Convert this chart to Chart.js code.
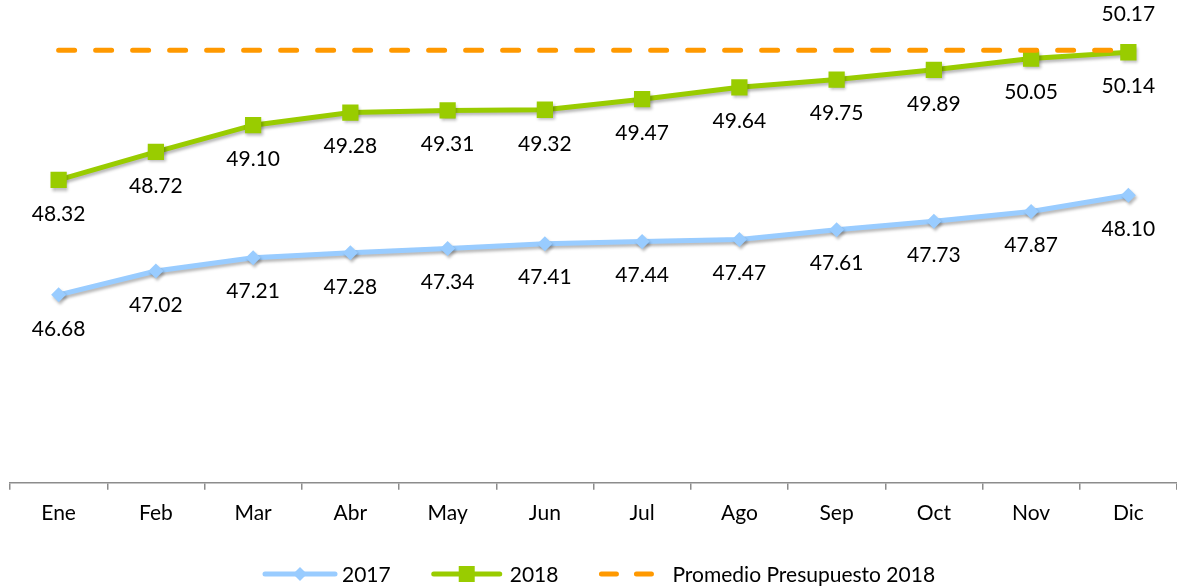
<!DOCTYPE html>
<html lang="es">
<head>
<meta charset="UTF-8">
<title>Promedio mensual 2017 - 2018</title>
<script src="https://cdn.jsdelivr.net/npm/chart.js"></script>
<style>
  html, body { margin: 0; padding: 0; background: #fff; }
  #wrap { width: 1177px; height: 587px; position: relative; }
</style>
</head>
<body>
<div id="wrap"><canvas id="chart"></canvas></div>
<script>
const months = ['Ene', 'Feb', 'Mar', 'Abr', 'May', 'Jun', 'Jul', 'Ago', 'Sep', 'Oct', 'Nov', 'Dic'];
const values2017 = [46.68, 47.02, 47.21, 47.28, 47.34, 47.41, 47.44, 47.47, 47.61, 47.73, 47.87, 48.10];
const values2018 = [48.32, 48.72, 49.10, 49.28, 49.31, 49.32, 49.47, 49.64, 49.75, 49.89, 50.05, 50.14];
const budget2018 = 50.17;
const seriesNames = ['2017', '2018', 'Promedio Presupuesto 2018'];

const FONT = '21px Lato, "Open Sans", sans-serif';
const BLUE = '#99CCFF';
const GREEN = '#99CC00';
const ORANGE = '#FF9900';

// flat budget reference across every month
const budgetLine = months.map(() => budget2018);

// soft drop shadow under the two series
const seriesShadow = {
  id: 'seriesShadow',
  beforeDatasetDraw(chart, args) {
    if (args.index > 1) return;
    const ctx = chart.ctx;
    ctx.save();
    ctx.shadowColor = 'rgba(0,0,0,0.28)';
    ctx.shadowBlur = 3;
    ctx.shadowOffsetX = 1.5;
    ctx.shadowOffsetY = 2.5;
  },
  afterDatasetDraw(chart, args) {
    if (args.index > 1) return;
    chart.ctx.restore();
  }
};

// values printed under each point, budget value above the last point
const valueLabels = {
  id: 'valueLabels',
  afterDatasetsDraw(chart) {
    const ctx = chart.ctx;
    ctx.save();
    ctx.font = FONT;
    ctx.fillStyle = '#000';
    ctx.textAlign = 'center';
    ctx.textBaseline = 'middle';
    [0, 1].forEach(i => {
      const ds = chart.data.datasets[i];
      chart.getDatasetMeta(i).data.forEach((pt, j) => {
        ctx.fillText(ds.data[j].toFixed(2), pt.x, pt.y + 34);
      });
    });
    const pts = chart.getDatasetMeta(2).data;
    const last = pts[pts.length - 1];
    ctx.fillText(budget2018.toFixed(2), last.x, last.y - 36);
    ctx.restore();
  }
};

// legend row: line + marker samples, dashed sample for the budget
const legendRow = {
  id: 'legendRow',
  afterDraw(chart) {
    const ctx = chart.ctx;
    const y = 574;
    ctx.save();
    ctx.font = FONT;
    ctx.textBaseline = 'middle';
    ctx.textAlign = 'left';
    const items = [
      { text: seriesNames[0], sample: 74, gap: 5, kind: 'diamond', color: BLUE },
      { text: seriesNames[1], sample: 70, gap: 8, kind: 'square', color: GREEN },
      { text: seriesNames[2], sample: 54, gap: 19, kind: 'dash', color: ORANGE }
    ];
    const spacing = 41;
    let x = 263;
    items.forEach(it => {
      it.w = it.sample + it.gap + ctx.measureText(it.text).width;
      ctx.strokeStyle = it.color;
      ctx.fillStyle = it.color;
      ctx.lineWidth = 5;
      ctx.lineCap = 'round';
      const cx = x + it.sample / 2;
      if (it.kind === 'dash') {
        ctx.beginPath();
        ctx.moveTo(x + 2, y); ctx.lineTo(x + 17, y);
        ctx.moveTo(x + 37, y); ctx.lineTo(x + 52, y);
        ctx.stroke();
      } else {
        ctx.beginPath();
        ctx.moveTo(x + 2, y); ctx.lineTo(x + it.sample - 2, y);
        ctx.stroke();
        ctx.beginPath();
        if (it.kind === 'diamond') {
          ctx.moveTo(cx - 7, y); ctx.lineTo(cx, y - 7);
          ctx.lineTo(cx + 7, y); ctx.lineTo(cx, y + 7);
          ctx.closePath();
        } else {
          ctx.rect(cx - 8, y - 8, 16, 16);
        }
        ctx.fill();
      }
      ctx.fillStyle = '#000';
      ctx.fillText(it.text, x + it.sample + it.gap, y + 1);
      x += it.w + spacing;
    });
    ctx.restore();
  }
};

new Chart(document.getElementById('chart'), {
  type: 'line',
  data: {
    labels: months,
    datasets: [
      {
        label: seriesNames[0],
        data: values2017,
        borderColor: BLUE,
        backgroundColor: BLUE,
        borderWidth: 5,
        pointStyle: 'rectRot',
        pointRadius: 7.5,
        pointBorderWidth: 0,
        tension: 0,
        order: 2
      },
      {
        label: seriesNames[1],
        data: values2018,
        borderColor: GREEN,
        backgroundColor: GREEN,
        borderWidth: 5,
        pointStyle: 'rect',
        pointRadius: 11.5,
        pointBorderWidth: 0,
        tension: 0,
        order: 1
      },
      {
        label: seriesNames[2],
        data: budgetLine,
        borderColor: ORANGE,
        borderWidth: 5,
        borderDash: [16, 21],
        borderCapStyle: 'round',
        pointRadius: 0,
        order: 0
      }
    ]
  },
  options: {
    responsive: true,
    maintainAspectRatio: false,
    animation: false,
    layout: {
      autoPadding: false,
      padding: { top: 27, left: 10, right: 0, bottom: 50 }
    },
    plugins: {
      legend: { display: false },
      tooltip: { enabled: false }
    },
    scales: {
      x: {
        offset: true,
        // category axis spans the full width, no room kept for edge labels
        afterFit(scale) {
          scale.paddingLeft = 0;
          scale.paddingRight = 0;
        },
        grid: {
          offset: true,
          drawOnChartArea: false,
          drawTicks: true,
          tickLength: 7,
          color: '#8c8c8c',
          lineWidth: 1.5
        },
        border: { color: '#8c8c8c', width: 1.5 },
        ticks: {
          color: '#000',
          padding: 11,
          maxRotation: 0,
          font: { family: 'Lato, "Open Sans", sans-serif', size: 21 }
        }
      },
      y: {
        display: false,
        min: 44,
        max: 50.5
      }
    }
  },
  plugins: [seriesShadow, valueLabels, legendRow]
});
</script>
</body>
</html>
